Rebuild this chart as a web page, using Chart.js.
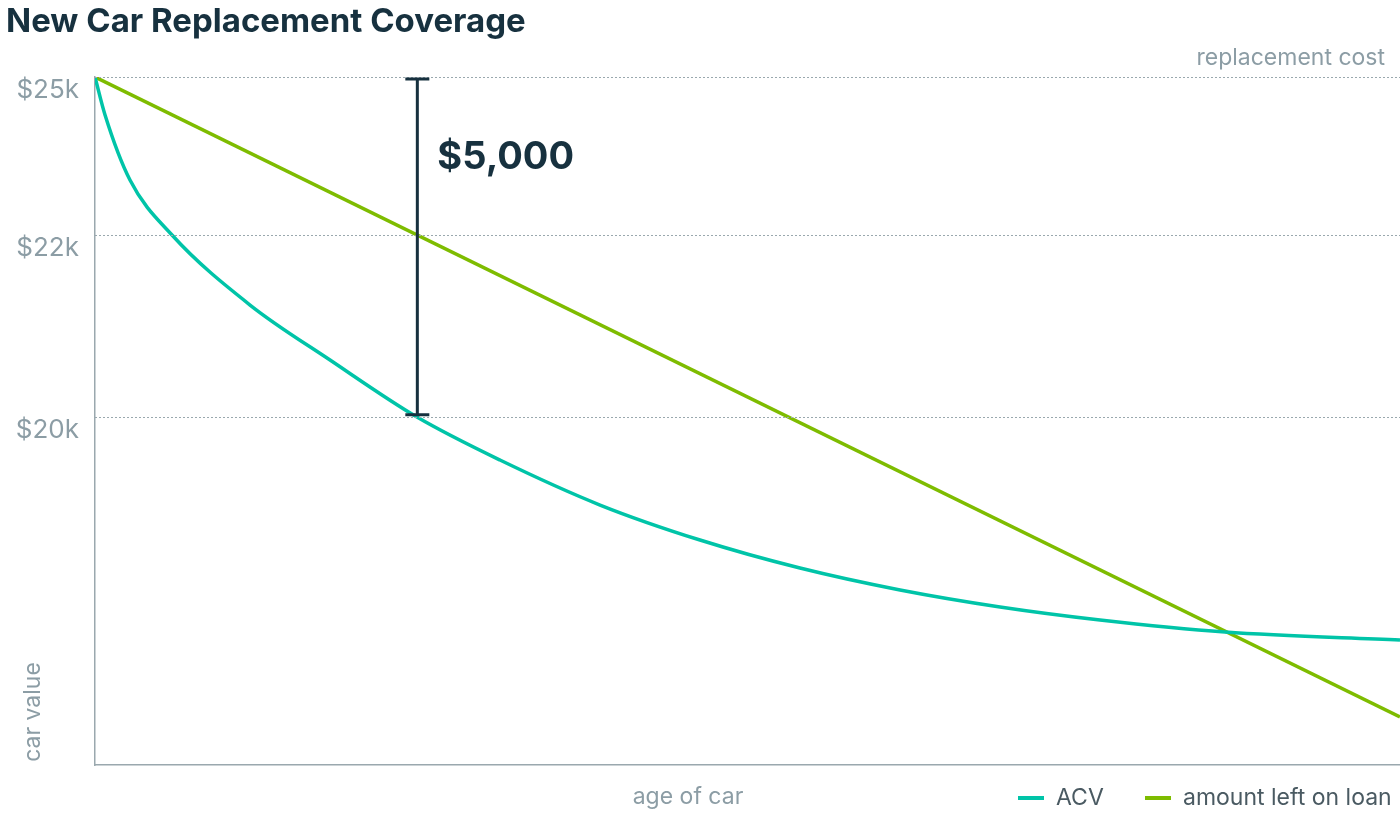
<!DOCTYPE html>
<html><head><meta charset="utf-8">
<script src="https://cdn.jsdelivr.net/npm/chart.js@4/dist/chart.umd.min.js"></script>
<style>html,body{margin:0;padding:0;background:#fff}#w{width:1400px;height:821px}</style>
</head><body><div id="w"><canvas id="c"></canvas></div>
<script>
const acvX = [0, 0.77, 2.68, 5.9, 11.88, 18.01, 24.67, 31.03, 38.7, 46.36, 54.02, 61.69, 69.35, 77.01, 86.59, 100];
const acvY = [100, 94.48, 85.03, 77.03, 66.86, 58.87, 50.58, 44.33, 37.79, 32.70, 28.63, 25.44, 22.97, 21.08, 19.33, 18.17];
const loanX = [0, 100];
const loanY = [100, 7.0];
const tickValues = [100, 77.0, 50.6];
const tickLabels = ['$25k', '$22k', '$20k'];
const gapX = 24.7, gapTop = 99.7, gapBottom = 50.9;
const gray = '#8c9da5', dark = '#17313f';
const F = 'Inter, "Open Sans", sans-serif';

const textPlugin = {
  id: 'texts',
  afterDraw(c) {
    const ctx = c.ctx, x = c.scales.x, y = c.scales.y, a = c.chartArea;
    ctx.save();
    ctx.strokeStyle = '#9aa8ae'; ctx.lineWidth = 1; ctx.setLineDash([2, 2]);
    tickValues.forEach(v => { const py = Math.round(y.getPixelForValue(v)) + 0.5; ctx.beginPath(); ctx.moveTo(a.left, py); ctx.lineTo(a.right, py); ctx.stroke(); });
    ctx.setLineDash([]);
    const bx = x.getPixelForValue(gapX), t = y.getPixelForValue(gapTop), b = y.getPixelForValue(gapBottom);
    ctx.strokeStyle = dark; ctx.lineWidth = 3;
    ctx.beginPath(); ctx.moveTo(bx, t); ctx.lineTo(bx, b);
    ctx.moveTo(bx - 12, t); ctx.lineTo(bx + 12, t); ctx.moveTo(bx - 12, b); ctx.lineTo(bx + 12, b); ctx.stroke();
    ctx.fillStyle = dark; ctx.font = 'bold 38px ' + F; ctx.textBaseline = 'middle'; ctx.textAlign = 'left';
    ctx.fillText('$5,000', bx + 20, 158);
    ctx.font = 'bold 33px ' + F; ctx.fillText('New Car Replacement Coverage', 6, 22);
    ctx.fillStyle = gray; ctx.font = '26px ' + F; ctx.textAlign = 'right';
    tickValues.forEach((v, i) => ctx.fillText(tickLabels[i], 79, y.getPixelForValue(v) + 13));
    ctx.font = '23px ' + F;
    ctx.fillText('replacement cost', 1385, 58);
    ctx.textAlign = 'center'; ctx.fillText('age of car', 688, 797);
    ctx.save(); ctx.translate(33, 712); ctx.rotate(-Math.PI / 2); ctx.fillText('car value', 0, 0); ctx.restore();
    ctx.textAlign = 'left'; ctx.fillStyle = '#4a5a62'; ctx.lineWidth = 4;
    const items = [[1018, c.data.datasets[0]], [1145, c.data.datasets[1]]];
    items.forEach(([lx, ds]) => { ctx.strokeStyle = ds.borderColor; ctx.beginPath(); ctx.moveTo(lx, 798); ctx.lineTo(lx + 26, 798); ctx.stroke(); ctx.fillText(ds.label, lx + 38, 798); });
    ctx.restore();
  }
};

new Chart(document.getElementById('c'), {
  type: 'scatter',
  data: { datasets: [
    { label: 'ACV', data: acvX.map((v, i) => ({x: v, y: acvY[i]})), showLine: true, borderColor: '#00c4a8', borderWidth: 3.5, pointRadius: 0, cubicInterpolationMode: 'monotone' },
    { label: 'amount left on loan', data: loanX.map((v, i) => ({x: v, y: loanY[i]})), showLine: true, borderColor: '#7ebc00', borderWidth: 3.5, pointRadius: 0 }
  ]},
  options: {
    responsive: true, maintainAspectRatio: false, animation: false,
    layout: { padding: { top: 77, bottom: 0, right: 0, left: 0 } },
    plugins: { legend: { display: false }, tooltip: { enabled: false } },
    scales: {
      x: { type: 'linear', min: 0, max: 100, grid: { display: false }, ticks: { display: false },
           border: { color: '#9aa8ae', width: 1.5 }, afterFit: s => { s.height = 56; } },
      y: { min: 0, max: 100, grid: { display: false }, ticks: { display: false },
           border: { color: '#9aa8ae', width: 1.5 }, afterFit: s => { s.width = 95; } }
    }
  },
  plugins: [textPlugin]
});
</script></body></html>
